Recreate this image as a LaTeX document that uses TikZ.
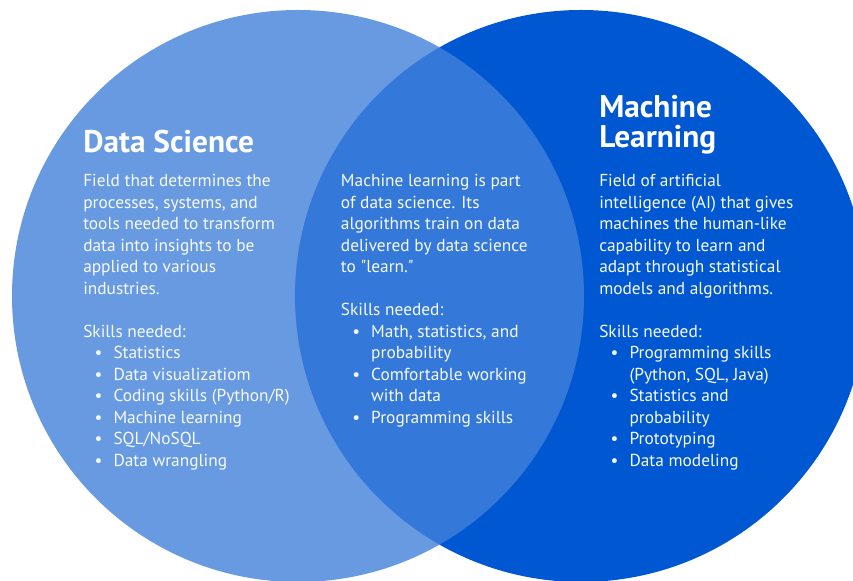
\documentclass[tikz,border=0pt]{standalone}
\usepackage{fontspec}
\setmainfont{PT Sans}
\usepackage{tikz}
\definecolor{dsblue}{RGB}{66,129,219}
\definecolor{mlblue}{RGB}{0,87,210}
\newcommand{\blt}[1]{\makebox[22.7pt][l]{\hspace{8.5pt}\textbullet}#1}
\newcommand{\cont}[1]{\hspace*{22.7pt}#1}

\begin{document}
\begin{tikzpicture}[x=0.75pt, y=0.75pt,
  title/.style = {anchor=base west, inner sep=0, text=white,
    font=\fontsize{23.5}{22}\selectfont\bfseries},
  body/.style = {anchor=base west, inner sep=0, text=white!96!dsblue,
    font=\fontsize{13}{16.1}\selectfont}]
  \useasboundingbox (0,0) rectangle (853,581);
  \clip (0,0) rectangle (853,581);
  % the two sets
  \fill[mlblue] (581,285) circle (286);
  \fill[dsblue, fill opacity=0.8] (298,285) circle (286);
  % data science
  \node[title] (dstitle) at (83,428.5) {Data Science};
  \node[body] (dsbody) at (83,394) {\parbox[t]{220pt}{\raggedright
    Field that determines the\\
    processes, systems, and\\
    tools needed to transform\\
    data into insights to be\\
    applied to various\\
    industries.\\[\baselineskip]
    Skills needed:\\
    \blt{Statistics}\\
    \blt{Data visualizatiom}\\
    \blt{Coding skills (Python/R)}\\
    \blt{Machine learning}\\
    \blt{SQL/NoSQL}\\
    \blt{Data wrangling}}};
  % overlap
  \node[body] (both) at (340.7,394) {\parbox[t]{220pt}{\raggedright
    Machine learning is part\\
    of data science. Its\\
    algorithms train on data\\
    delivered by data science\\
    to \textquotedbl learn.\textquotedbl\\[\baselineskip]
    Skills needed:\\
    \blt{Math, statistics, and}\\
    \cont{probability}\\
    \blt{Comfortable working}\\
    \cont{with data}\\
    \blt{Programming skills}}};
  % machine learning
  \node[title] (mltitle) at (599,463) {\parbox[t]{220pt}{\raggedright
    Machine\\
    Learning}};
  \node[body] (mlbody) at (599,394) {\parbox[t]{220pt}{\raggedright
    Field of artificial\\
    intelligence (AI) that gives\\
    machines the human-like\\
    capability to learn and\\
    adapt through statistical\\
    models and algorithms.\\[\baselineskip]
    Skills needed:\\
    \blt{Programming skills}\\
    \cont{(Python, SQL, Java)}\\
    \blt{Statistics and}\\
    \cont{probability}\\
    \blt{Prototyping}\\
    \blt{Data modeling}}};
\end{tikzpicture}
\end{document}
